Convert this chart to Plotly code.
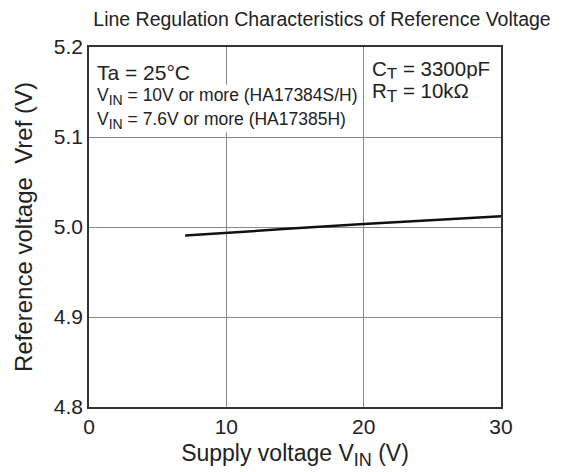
import plotly.graph_objects as go

vin = [7, 10, 15, 20, 25, 30]
vref = [4.9905, 4.9937, 4.9985, 5.0033, 5.0078, 5.012]
x_ticks = [0, 10, 20, 30]
y_ticks = [4.8, 4.9, 5.0, 5.1, 5.2]
y_tick_labels = ["4.8", "4.9", "5.0", "5.1", "5.2"]

FONT = "Liberation Sans, Arial, sans-serif"
SUB = "<sub><span style='font-size:{}px'>{}</span></sub>"

# page body has an 8px margin, so the figure is drawn 8px in from the top-left
W, H = 559, 464

fig = go.Figure()
fig.add_trace(go.Scatter(x=vin, y=vref, mode="lines",
                         line=dict(color="#111111", width=2.5), showlegend=False))

fig.update_layout(
    width=W, height=H,
    margin=dict(l=81, r=66, t=39, b=65, autoexpand=False),
    paper_bgcolor="white", plot_bgcolor="white",
    font=dict(family=FONT, color="#222222"),
    title=dict(text="Line Regulation Characteristics of Reference Voltage",
               x=314 / W, xanchor="center", y=1 - 11 / H, yanchor="middle",
               automargin=False,
               font=dict(size=19.5, family=FONT, color="#222222")),
    xaxis=dict(range=[0, 30], tickvals=x_ticks, showgrid=True, gridcolor="#888888",
               gridwidth=1, zeroline=False, showline=True, linecolor="#333333",
               linewidth=1.5, mirror=True, ticks="", tickfont=dict(size=21),
               automargin=False,
               title=dict(text="Supply voltage V" + SUB.format(18, "IN") + " (V)",
                          font=dict(size=23), standoff=8)),
    yaxis=dict(range=[4.8, 5.2], tickvals=y_ticks, ticktext=y_tick_labels, showgrid=True,
               gridcolor="#888888", gridwidth=1, zeroline=False, showline=True,
               linecolor="#333333", linewidth=1.5, mirror=True, ticks="",
               tickfont=dict(size=21), automargin=False,
               title=dict(text="Reference voltage  Vref (V)", font=dict(size=24), standoff=14)),
)

ann_common = dict(xref="paper", yref="paper", showarrow=False, xanchor="left",
                  yanchor="middle", bgcolor="white", borderpad=0)
fig.add_annotation(x=0.018, y=0.93, text="Ta = 25°C", font=dict(size=21), **ann_common)
fig.add_annotation(x=0.018, y=0.863,
                   text="V" + SUB.format(14, "IN") + " = 10V or more (HA17384S/H)",
                   font=dict(size=17.5), **ann_common)
fig.add_annotation(x=0.018, y=0.795,
                   text="V" + SUB.format(14, "IN") + " = 7.6V or more (HA17385H)",
                   font=dict(size=17.5), **ann_common)
fig.add_annotation(x=0.685, y=0.935, text="C" + SUB.format(17, "T") + " = 3300pF",
                   font=dict(size=20.5), **ann_common)
fig.add_annotation(x=0.685, y=0.875, text="R" + SUB.format(17, "T") + " = 10kΩ",
                   font=dict(size=20.5), **ann_common)

fig.write_html("out.html")
